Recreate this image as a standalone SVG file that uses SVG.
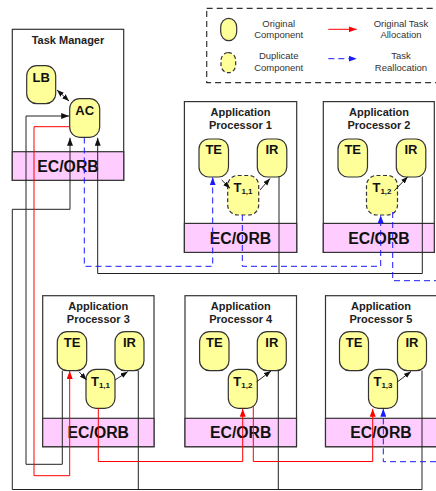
<svg xmlns="http://www.w3.org/2000/svg" width="436" height="491" viewBox="0 0 436 491">
<style>
.box{fill:#fff;stroke:#333;stroke-width:1.2}
.orb{fill:#ffccff;stroke:#333;stroke-width:1.2}
.node{fill:#ffff99;stroke:#333;stroke-width:1.2}
.dup{fill:#ffff99;stroke:#333;stroke-width:1.2;stroke-dasharray:4 2.5}
.ttl{font-family:"Liberation Sans",Arial,sans-serif;font-weight:bold;font-size:11px;text-anchor:middle;fill:#222}
.ot{font-family:"Liberation Sans",Arial,sans-serif;font-weight:bold;font-size:15.8px;text-anchor:middle;fill:#111}
.nt{font-family:"Liberation Sans",Arial,sans-serif;font-weight:bold;font-size:13px;text-anchor:middle;fill:#111}
.sub{font-size:8px}
.lg{font-family:"Liberation Sans",Arial,sans-serif;font-size:9.5px;text-anchor:middle;fill:#333}
.k{fill:none;stroke:#222;stroke-width:1}
.r{fill:none;stroke:#f00;stroke-width:1}
.b{fill:none;stroke:#1a1aff;stroke-width:1;stroke-dasharray:6 4}
</style>
<defs>
<marker id="ak" viewBox="0 0 8 6" markerWidth="8" markerHeight="6" refX="8" refY="3" orient="auto" markerUnits="userSpaceOnUse"><path d="M0,0L8,3L0,6z" fill="#111"/></marker>
<marker id="aks" viewBox="0 0 8 6" markerWidth="7" markerHeight="5.5" refX="8" refY="3" orient="auto-start-reverse" markerUnits="userSpaceOnUse"><path d="M0,0L8,3L0,6z" fill="#111"/></marker>
<marker id="ar" viewBox="0 0 8 6" markerWidth="8" markerHeight="6" refX="8" refY="3" orient="auto" markerUnits="userSpaceOnUse"><path d="M0,0L8,3L0,6z" fill="#f00"/></marker>
<marker id="ab" viewBox="0 0 8 6" markerWidth="8" markerHeight="6" refX="8" refY="3" orient="auto" markerUnits="userSpaceOnUse"><path d="M0,0L8,3L0,6z" fill="#1a1aff"/></marker>
</defs>
<rect width="436" height="491" fill="#fff"/>

<g id="legend">
<rect x="206.7" y="8.3" width="240" height="74.4" fill="none" stroke="#333" stroke-width="1.2" stroke-dasharray="6 4"/>
<rect x="220.7" y="18.3" width="16" height="22.4" rx="8" ry="9" class="node"/>
<rect x="221" y="52.7" width="14.7" height="20" rx="7" ry="8" class="dup"/>
<text class="lg" x="278.7" y="27.4">Original</text>
<text class="lg" x="278.7" y="37.7">Component</text>
<text class="lg" x="278.7" y="59">Duplicate</text>
<text class="lg" x="278.7" y="71">Component</text>
<path class="r" d="M328.3,29.3H356.7" marker-end="url(#ar)"/>
<path class="b" d="M328.3,58.7H356.7" marker-end="url(#ab)"/>
<text class="lg" x="401" y="27.4">Original Task</text>
<text class="lg" x="401" y="37.7">Allocation</text>
<text class="lg" x="401" y="59">Task</text>
<text class="lg" x="401" y="71">Reallocation</text>
</g>

<g id="task-manager">
<rect class="box" x="12.3" y="29.3" width="111.4" height="151"/>
<text class="ttl" x="68" y="43.5">Task Manager</text>
<rect class="orb" x="12.3" y="151.7" width="111.4" height="28.6"/>
<text class="ot" x="68" y="171.5">EC/ORB</text>
<g id="LB"><rect class="node" x="26.7" y="65.7" width="29" height="38" rx="10"/><text class="nt" x="41.2" y="81.5">LB</text></g>
<g id="AC"><rect class="node" x="69.7" y="98.7" width="30" height="38.6" rx="10"/><text class="nt" x="84.7" y="114.5">AC</text></g>
</g>

<g id="ap1">
<rect class="box" x="184.4" y="101.6" width="112.3" height="150.8"/>
<text class="ttl" x="240.5" y="115.8">Application</text>
<text class="ttl" x="240.5" y="128.5">Processor 1</text>
<rect class="orb" x="184.4" y="223.4" width="112.3" height="29"/>
<text class="ot" x="240.5" y="243.5">EC/ORB</text>
<g id="ap1-TE"><rect class="node" x="199" y="139" width="29.5" height="38" rx="10"/><text class="nt" x="213.7" y="154.2">TE</text></g>
<g id="ap1-IR"><rect class="node" x="257.3" y="139" width="29.5" height="38" rx="10"/><text class="nt" x="272" y="154.2">IR</text></g>
<g id="ap1-T11"><rect class="dup" x="227.7" y="175.5" width="31" height="39.5" rx="10"/><text class="nt" x="243" y="192">T<tspan class="sub" dy="2">1,1</tspan></text></g>
</g>

<g id="ap2">
<rect class="box" x="323.3" y="101.6" width="111" height="150.8"/>
<text class="ttl" x="379" y="115.8">Application</text>
<text class="ttl" x="379" y="128.5">Processor 2</text>
<rect class="orb" x="323.3" y="223.4" width="111" height="29"/>
<text class="ot" x="379" y="243.5">EC/ORB</text>
<g id="ap2-TE"><rect class="node" x="338" y="139" width="29.5" height="38" rx="10"/><text class="nt" x="352.7" y="154.2">TE</text></g>
<g id="ap2-IR"><rect class="node" x="396.3" y="139" width="29.5" height="38" rx="10"/><text class="nt" x="411" y="154.2">IR</text></g>
<g id="ap2-T12"><rect class="dup" x="366.5" y="175.5" width="31" height="39.5" rx="10"/><text class="nt" x="382" y="192">T<tspan class="sub" dy="2">1,2</tspan></text></g>
</g>

<g id="ap3">
<rect class="box" x="42.7" y="295.7" width="111.3" height="151"/>
<text class="ttl" x="98.3" y="309.8">Application</text>
<text class="ttl" x="98.3" y="323.3">Processor 3</text>
<rect class="orb" x="42.7" y="418.3" width="111.3" height="28.4"/>
<text class="ot" x="98.3" y="438">EC/ORB</text>
<g id="ap3-TE"><rect class="node" x="57.3" y="331.7" width="29.4" height="39" rx="10"/><text class="nt" x="72" y="347">TE</text></g>
<g id="ap3-IR"><rect class="node" x="115" y="331.7" width="29" height="39" rx="10"/><text class="nt" x="129.5" y="347">IR</text></g>
<g id="ap3-T11"><rect class="node" x="86" y="369.3" width="29" height="39" rx="10"/><text class="nt" x="100.5" y="385.5">T<tspan class="sub" dy="2">1,1</tspan></text></g>
</g>

<g id="ap4">
<rect class="box" x="185" y="295.7" width="111.5" height="151"/>
<text class="ttl" x="240.7" y="309.8">Application</text>
<text class="ttl" x="240.7" y="323.3">Processor 4</text>
<rect class="orb" x="185" y="418.3" width="111.5" height="28.4"/>
<text class="ot" x="240.7" y="438">EC/ORB</text>
<g id="ap4-TE"><rect class="node" x="199.6" y="331.7" width="29.4" height="39" rx="10"/><text class="nt" x="214.3" y="347">TE</text></g>
<g id="ap4-IR"><rect class="node" x="257.3" y="331.7" width="29" height="39" rx="10"/><text class="nt" x="271.8" y="347">IR</text></g>
<g id="ap4-T12"><rect class="node" x="228.3" y="369.3" width="29" height="39" rx="10"/><text class="nt" x="242.8" y="385.5">T<tspan class="sub" dy="2">1,2</tspan></text></g>
</g>

<g id="ap5">
<rect class="box" x="325.5" y="295.7" width="125" height="151"/>
<text class="ttl" x="381" y="309.8">Application</text>
<text class="ttl" x="381" y="323.3">Processor 5</text>
<rect class="orb" x="325.5" y="418.3" width="125" height="28.4"/>
<text class="ot" x="381" y="438">EC/ORB</text>
<g id="ap5-TE"><rect class="node" x="339.5" y="331.7" width="29" height="39" rx="10"/><text class="nt" x="354" y="347">TE</text></g>
<g id="ap5-IR"><rect class="node" x="397.5" y="331.7" width="29" height="39" rx="10"/><text class="nt" x="412" y="347">IR</text></g>
<g id="ap5-T13"><rect class="node" x="368.5" y="369.3" width="29" height="39" rx="10"/><text class="nt" x="383" y="385.5">T<tspan class="sub" dy="2">1,3</tspan></text></g>
</g>

<g id="connectors">
<path class="k" d="M57,90L69,101" marker-start="url(#aks)" marker-end="url(#aks)"/>
<path class="k" d="M62.3,370.7V464.3H26V116H69.2" marker-end="url(#ak)"/>
<path class="k" d="M422,370.5V489.5H12.3V209.3H70V137.8" marker-end="url(#ak)"/>
<path class="k" d="M138.3,370.5V489.5M278.3,370.5V489.5"/>
<path class="k" d="M422.3,176.5V273.5H97.7V137.8" marker-end="url(#ak)"/>
<path class="k" d="M279,176.5V273.5"/>
<path class="k" d="M221.7,180L230,188.3" marker-end="url(#aks)"/>
<path class="k" d="M260,190L270,178.5" marker-end="url(#aks)"/>
<path class="k" d="M394.3,190.7L407.7,176.7" marker-end="url(#aks)"/>
<path class="k" d="M79,371.7L86.5,380" marker-end="url(#aks)"/>
<path class="k" d="M115,380L127.7,371.7" marker-end="url(#aks)"/>
<path class="k" d="M256.7,381.7L271,371" marker-end="url(#aks)"/>
<path class="k" d="M397.7,381.7L411,371.5" marker-end="url(#aks)"/>
<path class="r" d="M69.7,126.7H34V475.7H69.7V371" marker-end="url(#ar)"/>
<path class="r" d="M98.3,408V461.5H242.7V408.8" marker-end="url(#ar)"/>
<path class="r" d="M253.3,406V461.5H372.7V408.8" marker-end="url(#ar)"/>
<path class="b" d="M84.3,137.5V266.3H212.7V177.3" marker-end="url(#ab)"/>
<path class="b" d="M242.3,215V266.3H380.7V215.3" marker-end="url(#ab)"/>
<path class="b" d="M392.7,212V280.7H436"/>
<path class="b" d="M436,461.7H383.3V408.8" marker-end="url(#ab)"/>
</g>
</svg>
